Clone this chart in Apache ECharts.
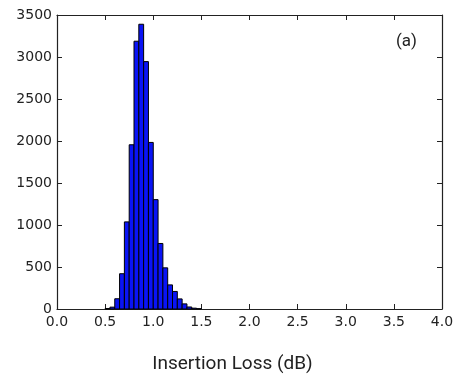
<!DOCTYPE html>
<html><head><meta charset="utf-8">
<script src="https://cdn.jsdelivr.net/npm/echarts@6/dist/echarts.min.js"></script>
<style>html,body{margin:0;padding:0;background:#fff}#c{width:458px;height:379px}</style>
</head><body><div id="c"></div>
<script>
// Histogram data (bin start in dB, count)
const binStarts = [0.50,0.55,0.60,0.65,0.70,0.75,0.80,0.85,0.90,0.95,1.00,1.05,1.10,1.15,1.20,1.25,1.30,1.35,1.40,1.45];
const counts    = [6,   22,  122, 420, 1037,1955,3188,3390,2945,1983,1302,780, 490, 287, 209, 120, 61,  24,  10,  4];
const binWidth = 0.05;
const xTickLabels = ['0.0','0.5','1.0','1.5','2.0','2.5','3.0','3.5','4.0'];
const yTickLabels = ['0','500','1000','1500','2000','2500','3000','3500'];
const xName = 'Insertion Loss (dB)';
const panelLabel = '(a)';

const chart = echarts.init(document.getElementById('c'));
const axisColor = '#222';
const tickFont = {fontFamily:'DejaVu Sans', fontSize:14, color:'#222'};
chart.setOption({
  animation:false,
  grid:{left:57, right:16, top:15, bottom:68},
  xAxis:[{
    type:'value', min:0, max:4, interval:0.5, position:'bottom',
    name:xName, nameLocation:'middle', nameGap:46,
    nameTextStyle:{fontFamily:'Roboto', fontSize:19, color:'#222', padding:[0,34,0,0]},
    axisLine:{show:true, onZero:false, lineStyle:{color:axisColor, width:1.2}},
    axisTick:{show:true, inside:true, length:5, lineStyle:{color:axisColor}},
    axisLabel:Object.assign({margin:6, formatter:(v)=>xTickLabels[Math.round(v/0.5)]}, tickFont),
    splitLine:{show:false}
  },{
    type:'value', min:0, max:4, interval:0.5, position:'top',
    axisLine:{show:true, onZero:false, lineStyle:{color:axisColor, width:1.2}},
    axisTick:{show:true, inside:true, length:5, lineStyle:{color:axisColor}},
    axisLabel:{show:false}, splitLine:{show:false}
  }],
  yAxis:[{
    type:'value', min:0, max:3500, interval:500, position:'left',
    axisLine:{show:true, onZero:false, lineStyle:{color:axisColor, width:1.2}},
    axisTick:{show:true, inside:true, length:5, lineStyle:{color:axisColor}},
    axisLabel:Object.assign({margin:5, formatter:(v)=>yTickLabels[Math.round(v/500)]}, tickFont),
    splitLine:{show:false}
  },{
    type:'value', min:0, max:3500, interval:500, position:'right',
    axisLine:{show:true, onZero:false, lineStyle:{color:axisColor, width:1.2}},
    axisTick:{show:true, inside:true, length:5, lineStyle:{color:axisColor}},
    axisLabel:{show:false}, splitLine:{show:false}
  }],
  graphic:[{
    type:'text', left:396, top:33,
    style:{text:panelLabel, font:'17px Roboto', fill:'#222'}
  }],
  series:[{
    type:'custom', xAxisIndex:0, yAxisIndex:0,
    encode:{x:[0,1], y:2},
    data: binStarts.map((s,i)=>[s, s+binWidth, counts[i]]),
    renderItem:(params, api)=>{
      const p0 = api.coord([api.value(0), api.value(2)]);
      const p1 = api.coord([api.value(1), 0]);
      return {type:'rect',
        shape:{x:p0[0], y:p0[1], width:p1[0]-p0[0], height:p1[1]-p0[1]},
        style:{fill:'#0a14f5', stroke:'#000', lineWidth:1}};
    }
  }]
});
</script></body></html>
